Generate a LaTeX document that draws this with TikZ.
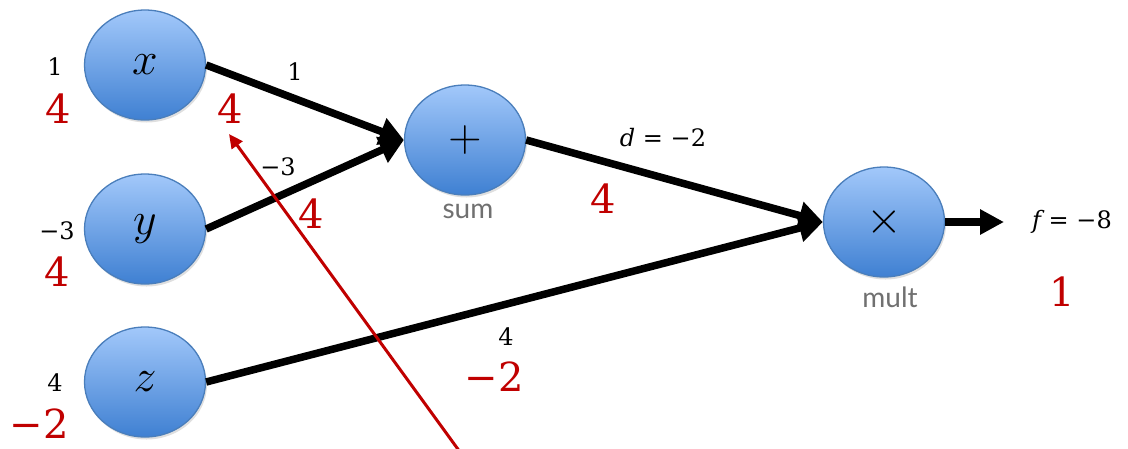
\documentclass[tikz,border=0pt]{standalone}
\usepackage{fix-cm}
\usepackage{fontspec}
\newfontfamily\labelfont{Lato}
\newfontfamily\numfont{DejaVu Serif}
\usetikzlibrary{shapes.geometric,arrows.meta,shadows}
\definecolor{topblue}{HTML}{A2C8FA}
\definecolor{botblue}{HTML}{3F80D2}
\definecolor{edgeblue}{HTML}{4A7EBB}
\definecolor{gradred}{HTML}{C00000}
\definecolor{namegray}{HTML}{707070}
\begin{document}
\begin{tikzpicture}[x=1pt,y=-1pt,
  gate/.style={ellipse, minimum width=121pt, minimum height=110pt, inner sep=0pt,
    draw=edgeblue, line width=1.3pt, top color=topblue, bottom color=botblue,
    drop shadow={opacity=0.25, shadow xshift=1.5pt, shadow yshift=-2.5pt},
    font=\fontsize{46}{50}\selectfont},
  wire/.style={line width=7.5pt, -{Triangle[length=24pt,width=27pt]}},
  grad/.style={gradred, line width=3pt, -{Triangle[length=14pt,width=13pt]}},
  val/.style={font=\numfont\fontsize{24}{28}\selectfont, inner sep=0pt},
  gval/.style={text=gradred, font=\numfont\fontsize{40}{44}\selectfont, inner sep=0pt},
  gname/.style={text=namegray, font=\labelfont\fontsize{28}{30}\selectfont, inner sep=0pt}]
\useasboundingbox (0,0) rectangle (1128,448);

% gates
\node[gate] (x) at (145,65) {$x$};
\node[gate] (y) at (145,229) {$y$};
\node[gate] (z) at (145,382) {$z$};
\node[gate] (sum) at (465,140) {$+$};
\node[gate] (mult) at (884,222) {$\times$};
\coordinate (out) at (1004,222);

% names
\node[gname] (sumname) at (468,211) {sum};
\node[gname] (multname) at (890,297) {mult};

% connectors
\draw[wire] (x.east) -- (sum.west);
\draw[wire] (y.east) -- (sum.west);
\draw[wire] (sum.east) -- (mult.west);
\draw[wire] (z.east) -- (mult.west);
\draw[line width=7.5pt, -{Triangle[length=24pt,width=24pt]}] (mult.east) -- (out);

% gradient arrow
\coordinate (gstart) at (460,452);
\coordinate (gend) at (229,134);
\draw[grad] (gstart) -- (gend);

% forward values
\node[val] (vx) at (55,67) {1};
\node[val] (vy) at (57,231) {−3};
\node[val] (vz) at (55,383) {4};
\node[val] (vxs) at (295,72) {1};
\node[val] (vys) at (278,167) {−3};
\node[val] (vd) at (663,138) {{\itshape d} = −2};
\node[val, anchor=west] (vf) at (1032,222) {{\itshape f} = −8};
\node[val] (vzm) at (506,337) {4};

% gradients
\node[gval] (gx) at (58,109) {4};
\node[gval] (gy) at (57,272) {4};
\node[gval] (gz) at (39,424) {−2};
\node[gval] (gxs) at (230,109) {4};
\node[gval] (gys) at (311,214) {4};
\node[gval] (gd) at (603,199) {4};
\node[gval] (gzm) at (494,377) {−2};
\node[gval] (gf) at (1062,292) {1};
\end{tikzpicture}
\end{document}
